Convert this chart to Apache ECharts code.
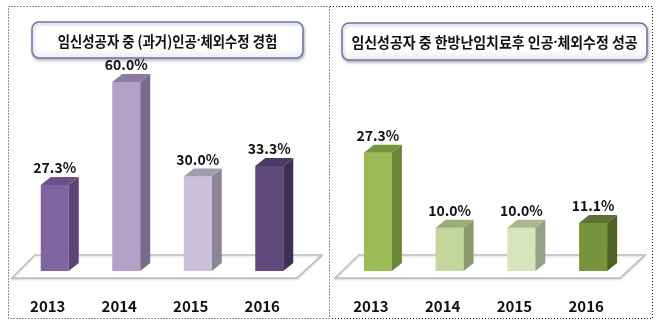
<!DOCTYPE html>
<html>
<head>
<meta charset="utf-8">
<script src="https://cdn.jsdelivr.net/npm/echarts@6/dist/echarts.min.js"></script>
<style>
  html, body { margin: 0; padding: 0; background: #fff; }
  #chart { width: 665px; height: 329px; }
</style>
</head>
<body>
<div id="chart"></div>
<script>
// Years shared by both panels
const years = ['2013', '2014', '2015', '2016'];

// Left panel: IVF/artificial insemination experience (%)
const leftTitle = ['임신성공자 중 (과거)인공', '체외수정 경험'];
const leftValues = [27.3, 60.0, 30.0, 33.3];

// Right panel: IVF success after Korean-medicine infertility treatment (%)
const rightTitle = ['임신성공자 중 한방난임치료후 인공', '체외수정 성공'];
const rightValues = [27.3, 10.0, 10.0, 11.1];

// Face colours per bar: [front, side, top]
const leftColors = [
  ['#8064a2', '#5a4575', '#6b5288'],
  ['#b3a2c7', '#786a89', '#8c7da0'],
  ['#ccc1da', '#8a8598', '#a29bb0'],
  ['#604a7b', '#3e3050', '#4c3b63']
];
const rightColors = [
  ['#9bbb59', '#6a8834', '#78953e'],
  ['#c3d69b', '#8a9a6c', '#9aac78'],
  ['#d7e4bd', '#97a184', '#a9b691'],
  ['#77933c', '#4e6127', '#5b7231']
];

const FONT = '"Noto Sans CJK KR", "Noto Sans", sans-serif';
const DX = 10, DY = 8, BAR_W = 28;

function bar3d(colors) {
  return function (params, api) {
    const val = api.value(1);
    const top = api.coord([api.value(0), val]);
    const base = api.coord([api.value(0), 0]);
    const x0 = top[0] - BAR_W / 2, x1 = top[0] + BAR_W / 2;
    const yT = top[1], yB = base[1];
    const c = colors[params.dataIndex];
    return {
      type: 'group',
      children: [
        { type: 'rect', shape: { x: x0, y: yT, width: BAR_W, height: yB - yT }, style: { fill: c[0] } },
        { type: 'polygon', shape: { points: [[x1, yT], [x1 + DX, yT - DY], [x1 + DX, yB - DY], [x1, yB]] }, style: { fill: c[1] } },
        { type: 'polygon', shape: { points: [[x0, yT], [x0 + DX, yT - DY], [x1 + DX, yT - DY], [x1, yT]] }, style: { fill: c[2] } },
        { type: 'text', style: { text: val.toFixed(1) + '%', x: top[0], y: yT - DY - 2, align: 'center', verticalAlign: 'bottom', fill: '#111', font: 'bold 14px ' + FONT } }
      ]
    };
  };
}

function axisX(gridIndex) {
  return {
    type: 'category', gridIndex: gridIndex, data: years,
    axisLine: { show: false }, axisTick: { show: false },
    axisLabel: { margin: 28, color: '#111', fontWeight: 'bold', fontSize: 15, fontFamily: FONT, padding: [0, 14, 0, 0] }
  };
}
function axisY(gridIndex, max) {
  return { type: 'value', gridIndex: gridIndex, min: 0, max: max, show: false, splitLine: { show: false } };
}

// Rounded title box; the middle dot is set in a narrow Latin font
function titleBox(x, y, w, h, parts, sx) {
  return [
    {
      type: 'rect', shape: { x: x, y: y, width: w, height: h, r: 7 },
      style: {
        fill: new echarts.graphic.LinearGradient(0, 0, 0, 1, [
          { offset: 0, color: '#ffffff' }, { offset: 0.7, color: '#ffffff' }, { offset: 1, color: '#ececf0' }
        ]),
        stroke: '#6a74b0', lineWidth: 1.5,
        shadowBlur: 3, shadowColor: 'rgba(0,0,0,0.25)', shadowOffsetX: 1, shadowOffsetY: 2
      }
    },
    {
      type: 'text', x: x + w / 2, y: y + h / 2 + 1, scaleX: sx,
      style: {
        text: parts[0] + '{d|·}' + parts[1], align: 'center', verticalAlign: 'middle',
        fill: '#111', font: 'bold 15px ' + FONT,
        rich: { d: { fontFamily: '"Noto Sans", sans-serif', fontWeight: 'bold', fontSize: 15, fill: '#111' } }
      }
    }
  ];
}

function floor(pts) {
  return {
    type: 'polygon', shape: { points: pts },
    style: { fill: '#ffffff', stroke: '#bdbdbd', lineWidth: 1.5, shadowBlur: 2, shadowColor: 'rgba(0,0,0,0.15)', shadowOffsetY: 1 }
  };
}

const dotted = { stroke: '#222', lineWidth: 1, lineDash: [1, 2], fill: null };

const chart = echarts.init(document.getElementById('chart'), null, { renderer: 'canvas' });
chart.setOption({
  animation: false,
  backgroundColor: '#ffffff',
  grid: [
    { left: 19, width: 286, bottom: 58, top: 19 },
    { left: 342, width: 287, bottom: 58, top: 54.5 }
  ],
  xAxis: [axisX(0), axisX(1)],
  yAxis: [axisY(0, 80), axisY(1, 50)],
  graphic: [
    { type: 'rect', shape: { x: 8.5, y: 6.5, width: 321, height: 312 }, style: dotted },
    { type: 'polyline', shape: { points: [[330, 6.5], [652.5, 6.5], [652.5, 318.5], [330, 318.5]] }, style: dotted },
    floor([[35, 255], [322, 255], [297, 278], [12, 278]]),
    floor([[359, 255], [645, 255], [620, 278], [335, 278]])
  ].concat(titleBox(32, 22, 271, 36, leftTitle, 0.89), titleBox(342, 23, 305, 37, rightTitle, 0.93)),
  series: [
    { type: 'custom', xAxisIndex: 0, yAxisIndex: 0, renderItem: bar3d(leftColors), data: leftValues.map((v, i) => [i, v]), z: 5 },
    { type: 'custom', xAxisIndex: 1, yAxisIndex: 1, renderItem: bar3d(rightColors), data: rightValues.map((v, i) => [i, v]), z: 5 }
  ]
});
</script>
</body>
</html>
